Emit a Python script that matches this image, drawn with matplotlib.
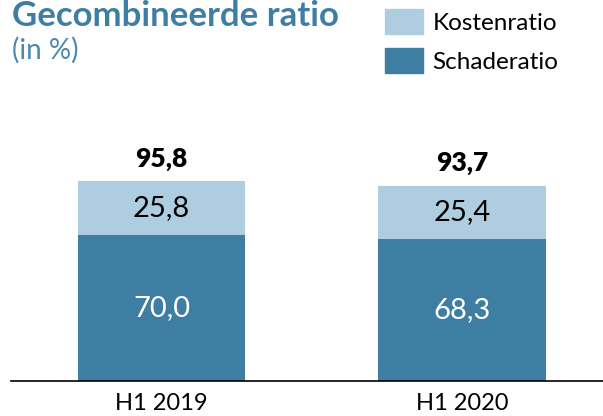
import matplotlib.pyplot as plt
from matplotlib.patches import Patch

plt.rcParams['font.family'] = ['Lato', 'DejaVu Sans']

periods = ['H1 2019', 'H1 2020']
schade = [70.0, 68.3]
kosten = [25.8, 25.4]
totaal = [95.8, 93.7]

dark = '#3f7ea3'
light = '#aecde0'

def fmt(v):
    return f'{v:.1f}'.replace('.', ',')

fig = plt.figure(figsize=(6.03, 4.16), dpi=100)
ax = fig.add_axes([0, 35 / 416, 1, 250 / 416])

x = range(len(periods))
ax.bar(x, schade, width=0.556, color=dark)
ax.bar(x, kosten, width=0.556, bottom=schade, color=light)

for i in x:
    ax.text(i, schade[i] / 2, fmt(schade[i]), ha='center', va='center',
            color='white', fontsize=21)
    ax.text(i, schade[i] + kosten[i] / 2, fmt(kosten[i]), ha='center',
            va='center', color='black', fontsize=21)
    ax.text(i, totaal[i] + 5, fmt(totaal[i]), ha='center', va='bottom',
            color='black', fontsize=19, fontweight='heavy')

ax.set_xlim(-0.5374, 1.469)
ax.set_ylim(0, 120)
for s in ['top', 'right', 'left']:
    ax.spines[s].set_visible(False)
ax.spines['bottom'].set_bounds(-0.5374 + 11 / 300.5, 1.469)
ax.spines['bottom'].set_linewidth(1.2)
ax.set_yticks([])
ax.set_xticks(list(x))
ax.set_xticklabels(periods, fontsize=17)
ax.tick_params(axis='x', length=0, pad=9)

fig.text(12 / 603, 1 - 0 / 416, 'Gecombineerde ratio', ha='left', va='top',
         fontsize=25, fontweight='bold', color=dark)
fig.text(12 / 603, 1 - 37 / 416, '(in %)', ha='left', va='top',
         fontsize=20, color='#4a88b0')

handles = [Patch(color=light), Patch(color=dark)]
fig.legend(handles, ['Kostenratio', 'Schaderatio'], loc='upper left',
           bbox_to_anchor=(385 / 603, 1 - 9 / 416), frameon=False,
           fontsize=17.5, handlelength=1.56, handleheight=1.2,
           handletextpad=0.4, labelspacing=0.6, borderaxespad=0,
           borderpad=0)

fig.savefig('out.png', dpi=100)
